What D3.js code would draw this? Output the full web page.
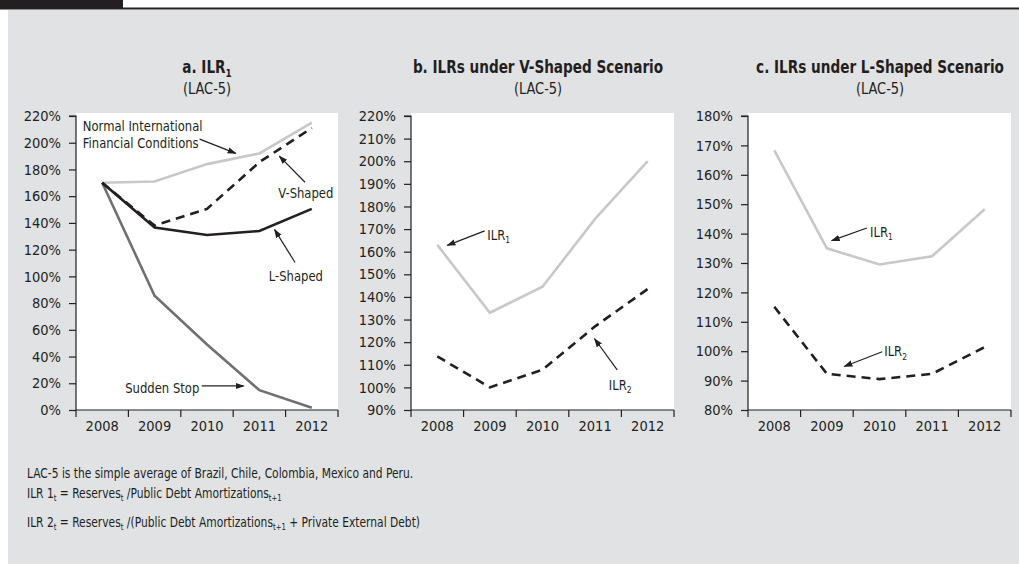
<!DOCTYPE html>
<html lang="en">
<head>
  <meta charset="UTF-8">
  <title>ILR scenarios LAC-5</title>
  <style>
    body { margin: 0; background: #ffffff; }
    svg text { font-family: "Liberation Sans Narrow", "Arial Narrow", "DejaVu Sans Condensed", sans-serif; fill: #231f20; }
  </style>
</head>
<body>
<div id="chart"></div>
<script src="https://cdn.jsdelivr.net/npm/d3@7/dist/d3.min.js"></script>
<script>
  // years on the x axis
  const years = ['2008', '2009', '2010', '2011', '2012'];

  // panel a: ILR1 under each scenario (%)
  const normalConditions = [170, 171, 184, 192, 215];
  const vShaped = [170, 138, 150.5, 185.5, 211];
  const lShaped = [170, 136.5, 131, 134, 150.5];
  const suddenStop = [170, 85.5, 49, 14.8, 1.7];

  // panel b: V-shaped scenario (%)
  const vIlr1 = [163, 133, 144.5, 174.5, 200];
  const vIlr2 = [113.7, 100, 107.8, 127, 143.5];

  // panel c: L-shaped scenario (%)
  const lIlr1 = [168.3, 135, 129.5, 132.3, 148.3];
  const lIlr2 = [115.1, 92.3, 90.5, 92.3, 101.4];

  // y tick values
  const ticksA = d3.range(0, 221, 20);
  const ticksB = d3.range(90, 221, 10);
  const ticksC = d3.range(80, 181, 10);

  const width = 1019;
  const height = 564;
  const plotTop = 116;
  const plotBottom = 410;

  const light = '#c8c8c8';
  const dark = '#707070';
  const ink = '#231f20';

  const svg = d3.select('#chart')
    .append('svg')
    .attr('width', width)
    .attr('height', height);

  // header bar + grey panel
  svg.append('rect').attr('x', 0).attr('y', 0).attr('width', 123).attr('height', 8).attr('fill', ink);
  svg.append('line').attr('x1', 0).attr('x2', width).attr('y1', 8.5).attr('y2', 8.5)
    .attr('stroke', ink).attr('stroke-width', 2);
  svg.append('rect').attr('x', 8).attr('y', 10).attr('width', width - 8).attr('height', height - 10)
    .attr('fill', '#e1e2e4');

  const defs = svg.append('defs');
  defs.append('marker')
    .attr('id', 'arrow')
    .attr('viewBox', '0 0 10 10')
    .attr('refX', 9).attr('refY', 5)
    .attr('markerWidth', 9).attr('markerHeight', 9)
    .attr('markerUnits', 'userSpaceOnUse')
    .attr('orient', 'auto')
    .append('path')
    .attr('d', 'M0,1.5 L10,5 L0,8.5 Z')
    .attr('fill', ink);

  // writes "ILR" with a small subscript
  function sub(textSel, main, small, size) {
    textSel.append('tspan').text(main);
    textSel.append('tspan').text(small)
      .attr('font-size', size * 0.65)
      .attr('dy', size * 0.22);
  }

  // the original uses a condensed face: squeeze text horizontally around its anchor
  function squeeze(textSel, k) {
    const x = +textSel.attr('x');
    const y = +textSel.attr('y');
    textSel.attr('x', 0).attr('y', 0)
      .attr('transform', `translate(${x},${y}) scale(${k},1)`);
  }

  function drawPanel(cfg) {
    const g = svg.append('g');

    const x = d3.scaleBand().domain(years).range([cfg.x0, cfg.x1]);
    const y = d3.scaleLinear().domain(cfg.domain).range([plotBottom, plotTop]);
    // fractional year position for annotations
    const xf = v => cfg.x0 + x.step() * (v + 0.5);

    g.append('rect')
      .attr('x', cfg.x0).attr('y', plotTop - 3)
      .attr('width', cfg.x1 - cfg.x0).attr('height', plotBottom - plotTop + 3)
      .attr('fill', '#ffffff');

    // titles
    const t = g.append('text')
      .attr('x', cfg.titleX).attr('y', 73)
      .attr('text-anchor', 'middle')
      .attr('font-weight', 'bold')
      .attr('font-size', 17);
    if (cfg.titleSub) {
      sub(t, cfg.title, cfg.titleSub, 17);
    } else {
      t.text(cfg.title);
    }
    squeeze(t, 0.89);
    const st = g.append('text')
      .attr('x', cfg.titleX).attr('y', 94)
      .attr('text-anchor', 'middle')
      .attr('font-size', 16)
      .text('(LAC-5)');
    squeeze(st, 0.9);

    // y axis
    const yAxis = g.append('g')
      .attr('transform', `translate(${cfg.x0},0)`)
      .call(d3.axisLeft(y).tickValues(cfg.ticks).tickSize(7).tickPadding(8)
        .tickFormat(d => d + '%'));
    yAxis.select('.domain').attr('d', `M-7,${plotTop}H0V${plotBottom}`);
    yAxis.selectAll('line, path').attr('stroke', ink).attr('stroke-width', 1.2);
    yAxis.selectAll('text').attr('font-size', 14.5).attr('font-family', null).attr('fill', ink);

    // x axis
    g.append('line')
      .attr('x1', cfg.x0).attr('x2', cfg.x1)
      .attr('y1', plotBottom).attr('y2', plotBottom)
      .attr('stroke', ink).attr('stroke-width', 1.2);
    const bounds = years.map(d => x(d)).concat([cfg.x1]);
    g.selectAll('.xtick')
      .data(bounds)
      .enter().append('line')
      .attr('x1', d => d).attr('x2', d => d)
      .attr('y1', plotBottom).attr('y2', plotBottom + 7)
      .attr('stroke', ink).attr('stroke-width', 1.2);
    g.selectAll('.xlab')
      .data(years)
      .enter().append('text')
      .attr('x', d => x(d) + x.bandwidth() / 2)
      .attr('y', 431)
      .attr('text-anchor', 'middle')
      .attr('font-size', 14.5)
      .text(d => d);

    // series
    const line = d3.line()
      .x((d, i) => x(years[i]) + x.bandwidth() / 2)
      .y(d => y(d));

    cfg.series.forEach(s => {
      g.append('path')
        .datum(s.values)
        .attr('d', line)
        .attr('fill', 'none')
        .attr('stroke', s.color)
        .attr('stroke-width', 2.6)
        .attr('stroke-dasharray', s.dash || null)
        .attr('stroke-linejoin', 'miter');
    });

    // annotations (positions in year index / value units)
    cfg.notes.forEach(n => {
      g.append('line')
        .attr('x1', xf(n.from[0])).attr('y1', y(n.from[1]))
        .attr('x2', xf(n.to[0])).attr('y2', y(n.to[1]))
        .attr('stroke', ink).attr('stroke-width', 1.2)
        .attr('marker-end', 'url(#arrow)');
      const labels = Array.isArray(n.label) ? n.label : [n.label];
      labels.forEach((l, i) => {
        const tx = g.append('text')
          .attr('x', xf(n.at[0])).attr('y', y(n.at[1]) + i * 17)
          .attr('font-size', 14.5);
        if (n.sub) {
          sub(tx, l, n.sub, 14.5);
        } else {
          tx.text(l);
        }
        squeeze(tx, 0.89);
      });
    });
  }

  drawPanel({
    x0: 76, x1: 338, titleX: 207,
    title: 'a. ILR', titleSub: '1',
    domain: [0, 220], ticks: ticksA,
    series: [
      { values: normalConditions, color: light },
      { values: suddenStop, color: dark },
      { values: vShaped, color: ink, dash: '9,6' },
      { values: lShaped, color: ink }
    ],
    notes: [
      { label: ['Normal International', 'Financial Conditions'], at: [-0.37, 208.5], from: [1.86, 202.7], to: [2.55, 192] },
      { label: 'V-Shaped', at: [3.36, 158.4], from: [3.87, 170.4], to: [3.38, 190] },
      { label: 'L-Shaped', at: [3.18, 96.9], from: [3.68, 110.4], to: [3.29, 135] },
      { label: 'Sudden Stop', at: [0.44, 12.8], from: [1.9, 18], to: [2.7, 18] }
    ]
  });

  drawPanel({
    x0: 411, x1: 674, titleX: 538,
    title: 'b. ILRs under V-Shaped Scenario',
    domain: [90, 220], ticks: ticksB,
    series: [
      { values: vIlr1, color: light },
      { values: vIlr2, color: ink, dash: '9,6' }
    ],
    notes: [
      { label: 'ILR', sub: '1', at: [0.95, 165.2], from: [0.9, 169.2], to: [0.19, 162.8] },
      { label: 'ILR', sub: '2', at: [3.26, 98.8], from: [3.42, 107.7], to: [2.99, 121.5] }
    ]
  });

  drawPanel({
    x0: 748, x1: 1011, titleX: 880,
    title: 'c. ILRs under L-Shaped Scenario',
    domain: [80, 180], ticks: ticksC,
    series: [
      { values: lIlr1, color: light },
      { values: lIlr2, color: ink, dash: '9,6' }
    ],
    notes: [
      { label: 'ILR', sub: '1', at: [1.82, 138.8], from: [1.76, 141.9], to: [1.09, 137.6] },
      { label: 'ILR', sub: '2', at: [2.09, 98.2], from: [2.05, 99.8], to: [1.33, 94.8] }
    ]
  });

  // footnotes
  const notes = svg.append('g');
  const first = notes.append('text').attr('x', 27).attr('y', 478).attr('font-size', 14)
    .text('LAC-5 is the simple average of Brazil, Chile, Colombia, Mexico and Peru.');
  squeeze(first, 0.85);

  function formula(yPos, parts) {
    const t = notes.append('text')
      .attr('x', 27).attr('y', yPos).attr('font-size', 14);
    let lowered = false;
    parts.forEach(p => {
      if (p.s) {
        t.append('tspan').text(p.s).attr('font-size', 9).attr('dy', 3);
        lowered = true;
      } else {
        t.append('tspan').text(p.t).attr('dy', lowered ? -3 : null);
        lowered = false;
      }
    });
    squeeze(t, 0.85);
  }
  formula(498, [
    { t: 'ILR 1' }, { s: 't' }, { t: ' = Reserves' }, { s: 't' },
    { t: ' /Public Debt Amortizations' }, { s: 't+1' }
  ]);
  formula(527, [
    { t: 'ILR 2' }, { s: 't' }, { t: ' = Reserves' }, { s: 't' },
    { t: ' /(Public Debt Amortizations' }, { s: 't+1' }, { t: ' + Private External Debt)' }
  ]);
</script>
</body>
</html>
